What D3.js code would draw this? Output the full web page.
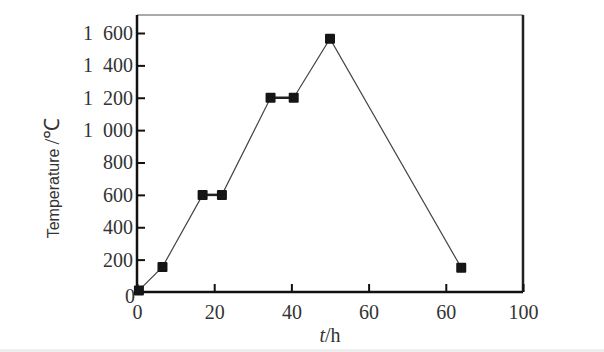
<!DOCTYPE html>
<html>
<head>
<meta charset="utf-8">
<script src="https://cdn.jsdelivr.net/npm/d3@7"></script>
<style>
  body { margin: 0; background: #fff; }
  svg { display: block; }
  .tick text { font-family: "Liberation Serif", "DejaVu Serif", serif; font-size: 20px; fill: #333; }
</style>
</head>
<body>
<div id="chart"></div>
<script>
// data
var hours = [0.5, 6.6, 17, 22, 34.6, 40.6, 50, 84];
var temps = [10, 155, 600, 600, 1200, 1200, 1565, 150];
var xTicks = [0, 20, 40, 60, 80, 100];
var xTickLabels = ["0", "20", "40", "60", "60", "100"];   // the original prints 60 twice
var yTicks = [0, 200, 400, 600, 800, 1000, 1200, 1400, 1600];
var yTickLabels = ["0", "200", "400", "600", "800", "1\u2002000", "1\u2002200", "1\u2002400", "1\u2002600"];

var W = 604, H = 352;
var margin = {top: 15, right: 81, bottom: 60, left: 137},
    width = W - margin.left - margin.right,
    height = H - margin.top - margin.bottom;

var x = d3.scaleLinear().domain([0, 100]).range([0, 386]);
var y = d3.scaleLinear().domain([0, 1600]).range([height, height - 259]);

var svg = d3.select("#chart").append("svg")
    .attr("width", W)
    .attr("height", H);

// faint grey strip at the bottom like the screenshot
svg.append("rect")
    .attr("x", 0).attr("y", H - 3)
    .attr("width", W).attr("height", 3)
    .style("fill", "#eee");

var g = svg.append("g")
    .attr("transform", "translate(" + margin.left + "," + margin.top + ")");

// frame: top in grey, right in black
g.append("line")
    .attr("x1", 0).attr("x2", x(100))
    .attr("y1", 0).attr("y2", 0)
    .style("stroke", "#aaa").style("stroke-width", 2);
g.append("line")
    .attr("x1", x(100)).attr("x2", x(100))
    .attr("y1", 0).attr("y2", height)
    .style("stroke", "#222").style("stroke-width", 2.5);

var xAxis = d3.axisBottom(x)
    .tickValues(xTicks)
    .tickSizeInner(-8)
    .tickSizeOuter(0)
    .tickPadding(13)
    .tickFormat(function(d, i) { return xTickLabels[i]; });

var yAxis = d3.axisLeft(y)
    .tickValues(yTicks)
    .tickSizeInner(-8)
    .tickSizeOuter(0)
    .tickPadding(4)
    .tickFormat(function(d, i) { return yTickLabels[i]; });

var gx = g.append("g")
    .attr("transform", "translate(0," + height + ")")
    .call(xAxis);
gx.select(".domain").attr("d", "M0,0H" + x(100)).style("stroke", "#111").style("stroke-width", 2.5);
gx.selectAll(".tick line").style("stroke", "#111").style("stroke-width", 2);
gx.selectAll(".tick text").attr("dy", "0.7em");

var gy = g.append("g").call(yAxis);
gy.select(".domain").attr("d", "M0,0V" + height).style("stroke", "#111").style("stroke-width", 2.5);
gy.selectAll(".tick line").style("stroke", "#111").style("stroke-width", 2);
// the zero on the y axis sits a bit low and left, touching the x label
gy.selectAll(".tick").filter(function(d) { return d === 0; })
    .select("text").attr("x", -2).attr("dy", "0.5em");
gy.selectAll(".tick").filter(function(d) { return d === 0; })
    .select("line").remove();

var points = hours.map(function(h, i) { return {h: h, t: temps[i]}; });

var line = d3.line()
    .x(function(d) { return x(d.h); })
    .y(function(d) { return y(d.t); });

g.append("path")
    .datum(points)
    .attr("d", line)
    .style("fill", "none")
    .style("stroke", "#444")
    .style("stroke-width", 1.2);

// the two holding steps look thicker
[[2, 3], [4, 5]].forEach(function(p) {
  g.append("line")
      .attr("x1", x(hours[p[0]])).attr("x2", x(hours[p[1]]))
      .attr("y1", y(temps[p[0]])).attr("y2", y(temps[p[1]]))
      .style("stroke", "#222").style("stroke-width", 2.5);
});

g.selectAll(".pt")
    .data(points)
  .enter().append("rect")
    .attr("class", "pt")
    .attr("x", function(d) { return x(d.h) - 5; })
    .attr("y", function(d) { return y(d.t) - 5; })
    .attr("width", 10)
    .attr("height", 10)
    .attr("rx", 1)
    .style("fill", "#151515");

// axis titles
var xl = svg.append("text")
    .attr("x", 330)
    .attr("y", 342)
    .style("text-anchor", "middle")
    .style("font-family", "Liberation Serif, serif")
    .style("font-size", "20px")
    .style("fill", "#333");
xl.append("tspan").style("font-style", "italic").text("t");
xl.append("tspan").text("/h");

var yl = svg.append("text")
    .attr("transform", "translate(59,178) rotate(-90)")
    .style("text-anchor", "middle")
    .style("fill", "#333");
yl.append("tspan")
    .style("font-family", "Liberation Sans, Arial, sans-serif")
    .style("font-size", "16px")
    .text("Temperature");
yl.append("tspan")
    .attr("dx", "4")
    .style("font-family", "Liberation Serif, serif")
    .style("font-size", "21px")
    .text("/℃");
</script>
</body>
</html>
